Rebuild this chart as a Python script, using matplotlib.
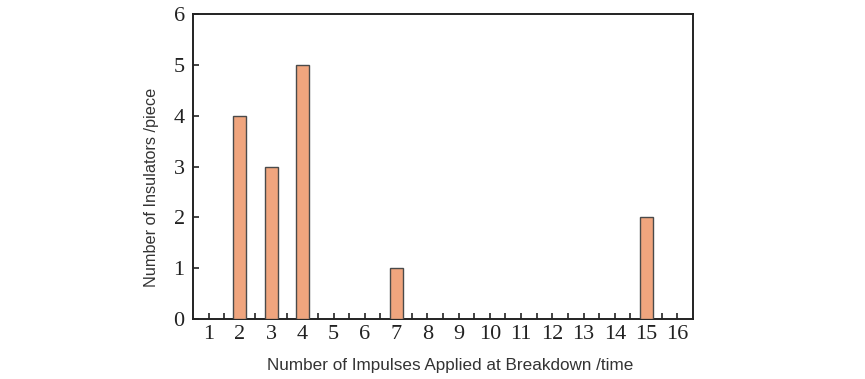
import matplotlib
matplotlib.use("Agg")
import matplotlib.pyplot as plt
import numpy as np

impulses = list(range(1, 17))
counts = [0, 4, 3, 5, 0, 0, 1, 0, 0, 0, 0, 0, 0, 0, 2, 0]
y_ticks = [0, 1, 2, 3, 4, 5, 6]

fig = plt.figure(figsize=(8.65, 3.79), dpi=100)
ax = fig.add_axes([0.2231, 0.1583, 0.578, 0.8047])

xs = [x for x, c in zip(impulses, counts) if c > 0]
hs = [c for c in counts if c > 0]
ax.bar(xs, hs, width=0.42, color="#F0A57E", edgecolor="#4a4a4a", linewidth=1.0, zorder=3)

ax.set_xlim(0.5, 16.5)
ax.set_ylim(0, 6)
ax.set_xticks(impulses)
ax.set_xticks(np.arange(1.5, 16.5, 1.0), minor=True)
ax.set_yticks(y_ticks)

serif = ["Liberation Serif", "DejaVu Serif"]
ax.set_xticklabels([str(i) for i in impulses], fontfamily=serif, fontsize=16)
ax.set_yticklabels([str(v) for v in y_ticks], fontfamily=serif, fontsize=16)

ax.tick_params(axis="x", which="both", direction="in", length=4, width=1.2, color="#222222",
               pad=4, labelcolor="#222222")
ax.tick_params(axis="y", which="major", direction="in", length=4, width=1.2, color="#222222",
               pad=6, labelcolor="#222222")
for s in ax.spines.values():
    s.set_linewidth(1.4)
    s.set_color("#222222")

sans = ["Liberation Sans", "DejaVu Sans"]
ax.set_xlabel("Number of Impulses Applied at Breakdown /time", fontfamily=sans, fontsize=12.3,
              color="#333333")
ax.xaxis.set_label_coords(0.514, -0.128)
ax.set_ylabel("Number of Insulators /piece", fontfamily=sans, fontsize=11.7,
              color="#333333")
ax.yaxis.set_label_coords(-0.068, 0.43)

fig.savefig("out.png", dpi=100)
